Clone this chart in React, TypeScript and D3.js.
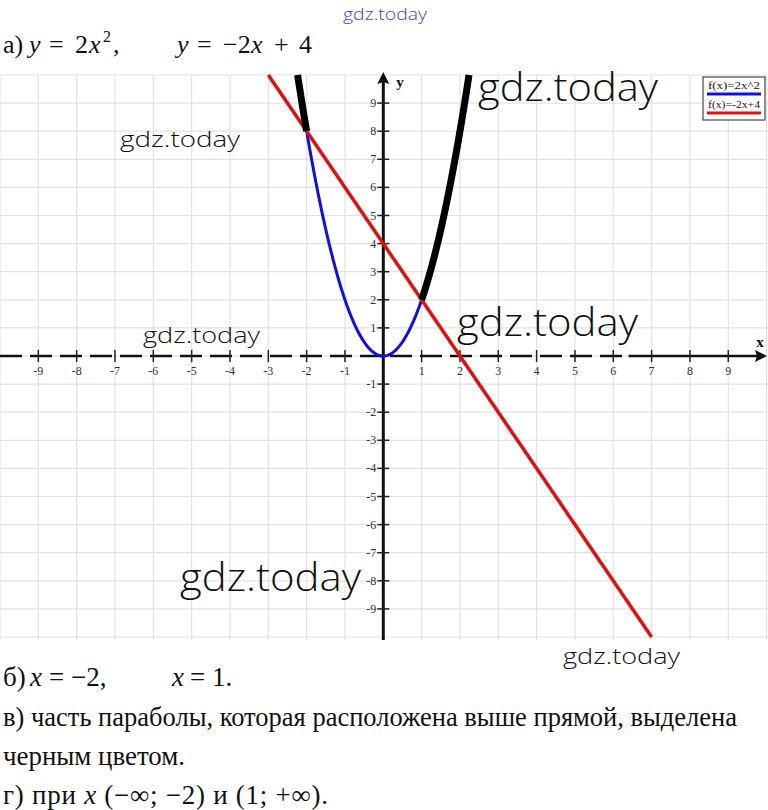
import React from "react";
import * as d3 from "d3";

const W = 768;
const H = 810;

// data
const xTicks = [-9, -8, -7, -6, -5, -4, -3, -2, -1, 1, 2, 3, 4, 5, 6, 7, 8, 9];
const yTicks = [9, 8, 7, 6, 5, 4, 3, 2, 1, -1, -2, -3, -4, -5, -6, -7, -8, -9];
const gridValues = [-10, -9, -8, -7, -6, -5, -4, -3, -2, -1, 0, 1, 2, 3, 4, 5, 6, 7, 8, 9, 10];
const parabolaCoef = [2, 0, 0]; // a, b, c : y = 2x^2
const lineCoef = [-2, 4]; // k, b : y = -2x + 4
const intersections = [-2, 1];
const legendLabels = ["f(x)=2x^2", "f(x)=-2x+4"];
const legendColors = ["#1010e0", "#e01010"];

const watermarks = [
  { t: "gdz.today", x: 343, y: 20, s: 17, w: 84, c: "#4040e8" },
  { t: "gdz.today", x: 478, y: 101, s: 38, w: 180, c: "#111" },
  { t: "gdz.today", x: 120, y: 147, s: 22, w: 120, c: "#111" },
  { t: "gdz.today", x: 143, y: 343, s: 22, w: 117, c: "#111" },
  { t: "gdz.today", x: 457, y: 336, s: 38, w: 181, c: "#111" },
  { t: "gdz.today", x: 180, y: 591, s: 38, w: 181, c: "#111" },
  { t: "gdz.today", x: 563, y: 664, s: 22, w: 117, c: "#111" },
];

const x = d3.scaleLinear().domain([-10, 10]).range([0, 766.6]);
const y = d3.scaleLinear().domain([-10, 10]).range([637, 75]);

const par = (v: number) => parabolaCoef[0] * v * v + parabolaCoef[1] * v + parabolaCoef[2];

const SERIF = "'Liberation Serif', 'DejaVu Serif', serif";
const SANS = "'Open Sans', 'Noto Sans', sans-serif";
const sf = { fontFamily: SERIF } as React.CSSProperties;
const si = { fontFamily: SERIF, fontStyle: "italic" } as React.CSSProperties;

export default function App() {
  const lineGen = d3
    .line<number>()
    .x((d) => x(d))
    .y((d) => y(par(d)));
  const xMax = Math.sqrt(10 / parabolaCoef[0]);
  const full = d3.range(-xMax, xMax + 0.001, 0.02);
  full.push(xMax);
  const leftBlack = d3.range(-xMax, intersections[0] + 0.0001, 0.01);
  leftBlack.push(intersections[0]);
  const rightBlack = d3.range(intersections[1], xMax, 0.01);
  rightBlack.push(xMax);

  const redX0 = (10 - lineCoef[1]) / lineCoef[0];
  const redX1 = (-10 - lineCoef[1]) / lineCoef[0];

  return (
    <svg
      width={W}
      height={H}
      style={{ position: "absolute", left: 0, top: 0, background: "#fff", fontFamily: SERIF }}
    >
      <rect width={W} height={H} fill="#fff" />
      {/* grid */}
      {gridValues.map((g) => (
        <line key={"gx" + g} x1={x(g)} x2={x(g)} y1={y(10)} y2={y(-10) + 3} stroke="#e2e2e2" strokeWidth={1.2} />
      ))}
      {gridValues.map((g) => (
        <line key={"gy" + g} x1={0} x2={W} y1={y(g)} y2={y(g)} stroke="#e2e2e2" strokeWidth={1.2} />
      ))}

      {/* x axis */}
      <line x1={0} x2={x(6.4)} y1={y(0)} y2={y(0)} stroke="#111" strokeWidth={2.5} strokeDasharray="22 8" />
      <line x1={x(6.4)} x2={760} y1={y(0)} y2={y(0)} stroke="#111" strokeWidth={2.5} />
      <path d={`M767,${y(0)} L755,${y(0) - 6} L757,${y(0)} L755,${y(0) + 6} Z`} fill="#111" />
      {xTicks.map((t) => (
        <g key={"xt" + t}>
          <line x1={x(t)} x2={x(t)} y1={y(0) - 6} y2={y(0) + 6} stroke="#222" strokeWidth={1.5} />
          <text x={x(t)} y={y(0) + 19} fontSize={12} textAnchor="middle" fill="#333" style={sf}>
            {t}
          </text>
        </g>
      ))}
      <text x={760} y={347} fontSize={15} fontWeight="bold" textAnchor="middle" fill="#111" style={sf}>
        x
      </text>

      {/* y axis */}
      <line x1={x(0)} x2={x(0)} y1={82} y2={640} stroke="#111" strokeWidth={3} />
      <path d={`M${x(0)},72 L${x(0) - 6},84 L${x(0)},82 L${x(0) + 6},84 Z`} fill="#111" />
      {yTicks.map((t) => (
        <g key={"yt" + t}>
          <line x1={x(0) - 6} x2={x(0) + 6} y1={y(t)} y2={y(t)} stroke="#222" strokeWidth={1.5} />
          <text x={x(0) - 7} y={y(t) + 4} fontSize={12} textAnchor="end" fill="#333" style={sf}>
            {t}
          </text>
        </g>
      ))}
      <text x={400} y={87} fontSize={15} fontWeight="bold" textAnchor="middle" fill="#111" style={sf}>
        y
      </text>

      {/* curves */}
      <path d={lineGen(full) || ""} fill="none" stroke={legendColors[0]} strokeWidth={3} />
      <line x1={x(redX0)} y1={y(10)} x2={x(redX1)} y2={y(-10)} stroke={legendColors[1]} strokeWidth={3.5} />
      <path d={lineGen(leftBlack) || ""} fill="none" stroke="#000" strokeWidth={7} />
      <path d={lineGen(rightBlack) || ""} fill="none" stroke="#000" strokeWidth={7} />

      {/* legend */}
      <rect x={703} y={77} width={62} height={43} fill="#fff" stroke="#222" strokeWidth={1} />
      <text x={708} y={89} fontSize={10} fill="#111" textLength={52} lengthAdjust="spacingAndGlyphs" style={sf}>
        {legendLabels[0]}
      </text>
      <line x1={707} x2={761} y1={94} y2={94} stroke={legendColors[0]} strokeWidth={3} />
      <text x={708} y={108} fontSize={10} fill="#111" textLength={52} lengthAdjust="spacingAndGlyphs" style={sf}>
        {legendLabels[1]}
      </text>
      <line x1={707} x2={761} y1={113} y2={113} stroke={legendColors[1]} strokeWidth={3} />

      {/* watermarks */}
      {watermarks.map((w, i) => (
        <text
          key={"wm" + i}
          x={w.x}
          y={w.y}
          fontSize={w.s}
          fontWeight={300}
          fill={w.c}
          textLength={w.w}
          lengthAdjust="spacingAndGlyphs"
          style={{ fontFamily: SANS, fontWeight: 300 }}
        >
          {w.t}
        </text>
      ))}

      {/* title */}
      <g fontSize={26} fill="#111">
        <text x={3} y={53} style={sf}>а)</text>
        <text x={29} y={53} style={si}>y</text>
        <text x={49} y={53} style={sf}>=</text>
        <text x={75} y={53} style={sf}>2</text>
        <text x={89} y={53} style={si}>x</text>
        <text x={103} y={42} fontSize={16} style={sf}>2</text>
        <text x={113} y={53} style={sf}>,</text>
        <text x={177} y={53} style={si}>y</text>
        <text x={197} y={53} style={sf}>=</text>
        <text x={223} y={53} style={sf}>−2</text>
        <text x={251} y={53} style={si}>x</text>
        <text x={274} y={53} style={sf}>+</text>
        <text x={299} y={53} style={sf}>4</text>
      </g>

      {/* answers */}
      <g fontSize={27} fill="#111">
        <text x={3} y={686} style={sf}>б)</text>
        <text x={30} y={686} style={si}>x</text>
        <text x={49} y={686} style={sf}>= −2,</text>
        <text x={172} y={686} style={si}>x</text>
        <text x={190} y={686} style={sf}>= 1.</text>
      </g>
      <text x={3} y={726} fontSize={27} fill="#111" textLength={734} lengthAdjust="spacingAndGlyphs" style={sf}>
        в) часть параболы, которая расположена выше прямой, выделена
      </text>
      <text x={3} y={765} fontSize={27} fill="#111" textLength={182} lengthAdjust="spacingAndGlyphs" style={sf}>
        черным цветом.
      </text>
      <text y={804} fontSize={27} fill="#111" style={sf} textLength={325} lengthAdjust="spacing">
        <tspan x={3}>г) при </tspan>
        <tspan style={si}>x</tspan>
        <tspan> (−∞; −2) и (1;  +∞).</tspan>
      </text>
    </svg>
  );
}
